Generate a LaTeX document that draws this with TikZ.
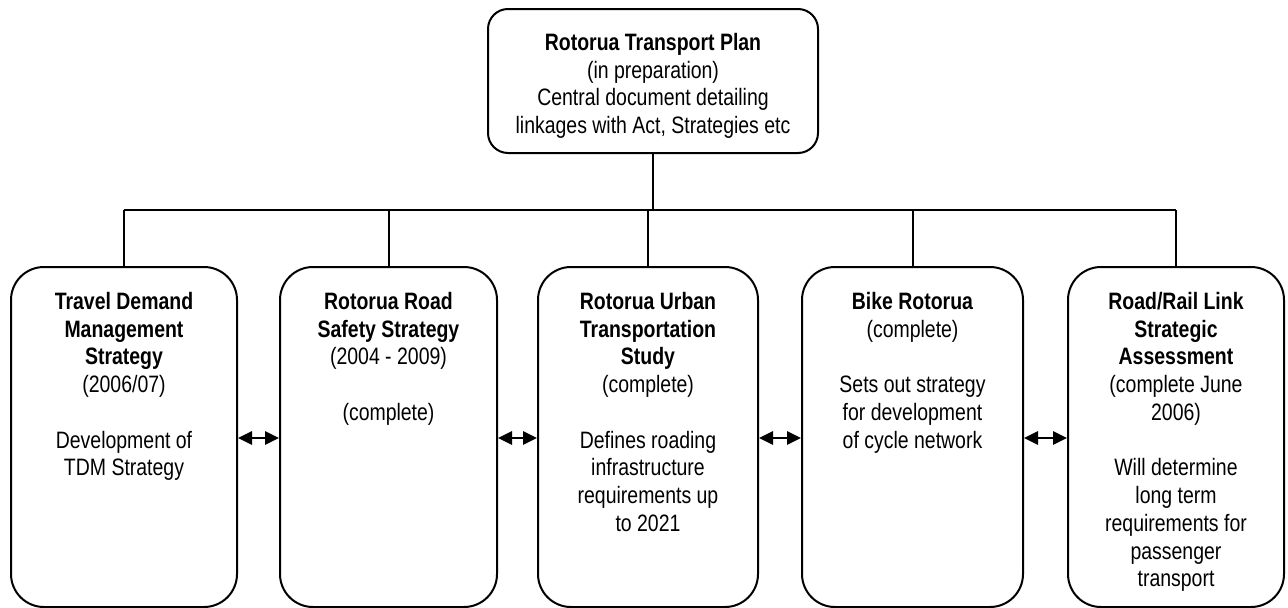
\documentclass[tikz,border=0pt]{standalone}
\usepackage{fontspec}
\setmainfont{Liberation Sans}[FakeStretch=0.82]
\usetikzlibrary{arrows.meta}
\begin{document}
\begin{tikzpicture}[x=0.75pt,y=-0.75pt,
  box/.style={draw,line width=1.5pt,rounded corners=24.75pt,inner sep=0pt,minimum height=255pt},
  topbox/.style={draw,line width=1.5pt,rounded corners=15pt,inner sep=0pt,minimum width=247.5pt,minimum height=108pt},
  txt/.style={align=center,anchor=north,inner sep=0pt,font=\fontsize{17.8}{20.8}\selectfont},
  bus/.style={line width=2.2pt},
  drop/.style={line width=1.5pt},
  link/.style={line width=1.3pt,{Triangle[length=10.5pt,width=10pt]}-{Triangle[length=10.5pt,width=10pt]}}]
\useasboundingbox (0,0) rectangle (1288,607);

% top box
\node[topbox] (top) at (653,81) {};
\node[txt] (ttop) at (653,33) {\textbf{Rotorua Transport Plan}\\(in preparation)\\Central document detailing\\linkages with Act, Strategies etc};

% lower boxes
\node[box,minimum width=169.5pt]  (b1) at (124,437) {};
\node[box,minimum width=162.75pt] (b2) at (388.5,437) {};
\node[box,minimum width=165pt]    (b3) at (648,437) {};
\node[box,minimum width=165.75pt] (b4) at (912.5,437) {};
\node[box,minimum width=162pt]    (b5) at (1176,437) {};

\node[txt] (t1) at ([yshift=-19.5pt]b1.north) {\textbf{Travel Demand}\\\textbf{Management}\\\textbf{Strategy}\\(2006/07)\\[20.8pt]Development of\\TDM Strategy};
\node[txt] (t2) at ([yshift=-19.5pt]b2.north) {\textbf{Rotorua Road}\\\textbf{Safety Strategy}\\(2004 - 2009)\\[20.8pt](complete)};
\node[txt] (t3) at ([yshift=-19.5pt]b3.north) {\textbf{Rotorua Urban}\\\textbf{Transportation}\\\textbf{Study}\\(complete)\\[20.8pt]Defines roading\\infrastructure\\requirements up\\to 2021};
\node[txt] (t4) at ([yshift=-19.5pt]b4.north) {\textbf{Bike Rotorua}\\(complete)\\[20.8pt]Sets out strategy\\for development\\of cycle network};
\node[txt] (t5) at ([yshift=-19.5pt]b5.north) {\textbf{Road/Rail Link}\\\textbf{Strategic}\\\textbf{Assessment}\\(complete June\\2006)\\[20.8pt]Will determine\\long term\\requirements for\\passenger\\transport};

% tree connectors
\coordinate (busy) at (0,210);
\draw[bus] (top.south) -- (top.south |- busy);
\draw[bus] (b1.north |- busy) -- (b5.north |- busy);
\draw[drop] (b1.north |- busy) -- (b1.north);
\draw[drop] (b2.north |- busy) -- (b2.north);
\draw[drop] (b3.north |- busy) -- (b3.north);
\draw[drop] (b4.north |- busy) -- (b4.north);
\draw[drop] (b5.north |- busy) -- (b5.north);

% double arrows
\coordinate (ay) at (0,438);
\draw[link] (b1.east |- ay) -- (b2.west |- ay);
\draw[link] (b2.east |- ay) -- (b3.west |- ay);
\draw[link] (b3.east |- ay) -- (b4.west |- ay);
\draw[link] (b4.east |- ay) -- (b5.west |- ay);
\end{tikzpicture}
\end{document}
